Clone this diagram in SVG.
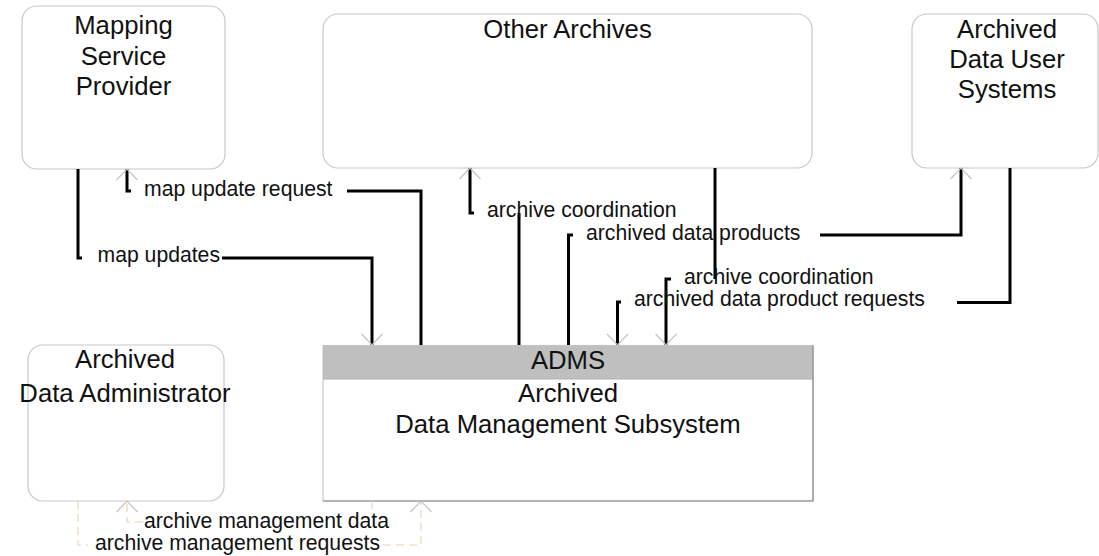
<svg xmlns="http://www.w3.org/2000/svg" width="1099" height="556" viewBox="0 0 1099 556">
<style>
.box{fill:#fff;stroke:#c8c8c8;stroke-width:1.2}
.title{font-family:"Liberation Sans",Arial,sans-serif;font-size:25.7px;fill:#111;text-anchor:middle}
.lbl{font-family:"Liberation Sans",Arial,sans-serif;font-size:21.2px;fill:#111}
.flow{fill:none;stroke:#000;stroke-width:3;stroke-linejoin:miter}
.dash{fill:none;stroke:#e6d8bc;stroke-width:1.2;stroke-dasharray:8 5}
</style>
<defs>
<marker id="arr" markerUnits="userSpaceOnUse" markerWidth="26" markerHeight="26" viewBox="-13 -13 26 26" refX="0" refY="0" orient="auto" overflow="visible">
<path d="M-11,-10.5 L0,0 L-11,10.5" fill="none" stroke="#c4c4c4" stroke-width="1.2"/>
</marker>
</defs>
<rect width="1099" height="556" fill="#fff"/>
<g id="msp">
<rect class="box" x="22" y="6" width="203" height="163" rx="15"/>
<text class="title" x="123.5" y="34">Mapping</text>
<text class="title" x="123.5" y="64.5">Service</text>
<text class="title" x="123.5" y="94.5">Provider</text>
</g>
<g id="other-archives">
<rect class="box" x="323" y="14" width="489" height="154" rx="15"/>
<text class="title" x="567.5" y="37.5">Other Archives</text>
</g>
<g id="adus">
<rect class="box" x="912" y="14" width="186" height="154" rx="15"/>
<text class="title" x="1007" y="37.7">Archived</text>
<text class="title" x="1007" y="68.3">Data User</text>
<text class="title" x="1007" y="98">Systems</text>
</g>
<g id="ada">
<rect class="box" x="28" y="345" width="196" height="156" rx="15"/>
<text class="title" x="125" y="368.3">Archived</text>
<text class="title" x="125" y="401.7">Data Administrator</text>
</g>
<g id="adms">
<rect x="323" y="345.5" width="490" height="155.5" fill="#fff" stroke="#c8c8c8" stroke-width="1.2"/>
<rect x="323" y="345.5" width="490" height="33.5" fill="#bfbfbf"/>
<line x1="323" y1="379" x2="813" y2="379" stroke="#b0b0b0" stroke-width="1"/>
<path d="M813,345.5 V501 H323" fill="none" stroke="#8c8c8c" stroke-width="1.2"/>
<text class="title" x="568" y="369">ADMS</text>
<text class="title" x="568" y="402">Archived</text>
<text class="title" x="568" y="433.3">Data Management Subsystem</text>
</g>
<g id="connectors">
<path class="flow" d="M78,169 V258 H82"/>
<path class="flow" d="M222,258 H372 V345" marker-end="url(#arr)"/>
<path class="flow" d="M421,345 V191 H347"/>
<path class="flow" d="M131,191 H127 V169" marker-end="url(#arr)"/>
<path class="flow" d="M519,345 V213"/>
<path class="flow" d="M474,213 H470 V168" marker-end="url(#arr)"/>
<path class="flow" d="M573,235 H568.5 V345"/>
<path class="flow" d="M820,235 H961 V168" marker-end="url(#arr)"/>
<path class="flow" d="M715,168 V279"/>
<path class="flow" d="M671,279 H666 V345" marker-end="url(#arr)"/>
<path class="flow" d="M1010,168 V302.5 H957"/>
<path class="flow" d="M621,302 H617.5 V345" marker-end="url(#arr)"/>
<path class="dash" d="M372,501 V512"/>
<path class="dash" d="M143,522 H127 V501" marker-end="url(#arr)"/>
<path class="dash" d="M78,501 V545 H88"/>
<path class="dash" d="M383,545 H421 V501" marker-end="url(#arr)"/>
<text class="lbl" x="144" y="195.5">map update request</text>
<text class="lbl" x="97.5" y="261.5">map updates</text>
<text class="lbl" x="487" y="217.3">archive coordination</text>
<text class="lbl" x="586" y="239.5">archived data products</text>
<text class="lbl" x="684" y="284">archive coordination</text>
<text class="lbl" x="634" y="306">archived data product requests</text>
<text class="lbl" x="144" y="527.5">archive management data</text>
<text class="lbl" x="95" y="549.5">archive management requests</text>
</g>
</svg>
